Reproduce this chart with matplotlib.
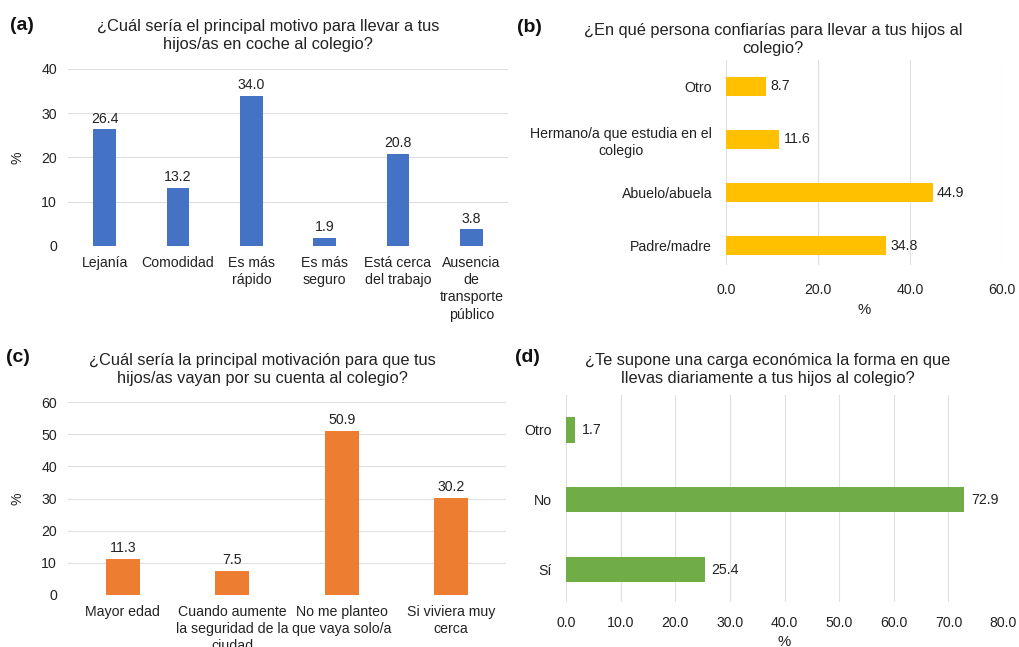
import matplotlib.pyplot as plt

plt.rcParams['font.family'] = ['Liberation Sans', 'DejaVu Sans']

# (a) main reason for driving children to school
a_labels = ["Lejanía", "Comodidad", "Es más\nrápido", "Es más\nseguro",
            "Está cerca\ndel trabajo", "Ausencia\nde\ntransporte\npúblico"]
a_values = [26.4, 13.2, 34.0, 1.9, 20.8, 3.8]

# (b) who parents would trust to take their children
b_labels = ["Padre/madre", "Abuelo/abuela", "Hermano/a que estudia en el\ncolegio", "Otro"]
b_values = [34.8, 44.9, 11.6, 8.7]

# (c) main motivation for children going on their own
c_labels = ["Mayor edad", "Cuando aumente\nla seguridad de la\nciudad",
            "No me planteo\nque vaya solo/a", "Si viviera muy\ncerca"]
c_values = [11.3, 7.5, 50.9, 30.2]

# (d) economic burden of the daily commute
d_labels = ["Sí", "No", "Otro"]
d_values = [25.4, 72.9, 1.7]

W, H = 1019, 647
fig = plt.figure(figsize=(W / 100, H / 100), dpi=100)

GRID = "#e0e0e0"
TXT = "#222222"
FS = 10.2


def px_axes(left, top, right, bottom):
    return fig.add_axes([left / W, 1 - bottom / H, (right - left) / W, (bottom - top) / H])


def clean(ax):
    for s in ax.spines.values():
        s.set_visible(False)
    ax.tick_params(length=0, colors=TXT, labelsize=FS)
    ax.set_axisbelow(True)


def vbar(ax, labels, values, color, ymax, step):
    x = range(len(values))
    bars = ax.bar(x, values, width=0.31, color=color)
    for b, v in zip(bars, values):
        ax.text(b.get_x() + b.get_width() / 2, v + ymax * 0.02, f"{v:.1f}",
                ha="center", va="bottom", fontsize=FS, color=TXT)
    ax.set_xlim(-0.5, len(values) - 0.5)
    ax.set_ylim(0, ymax)
    ax.set_yticks(range(0, ymax + 1, step))
    ax.set_xticks(list(x))
    ax.set_xticklabels(labels, linespacing=1.3)
    ax.yaxis.grid(True, color=GRID, linewidth=0.8)
    ax.set_ylabel("%", fontsize=FS, color=TXT, labelpad=12)
    clean(ax)
    ax.tick_params(axis="x", pad=7)
    ax.tick_params(axis="y", pad=8)


def hbar(ax, labels, values, color, xmax, ylim, xpad):
    y = range(len(values))
    bars = ax.barh(y, values, height=0.36, color=color)
    for b, v in zip(bars, values):
        ax.text(v + xmax * 0.016, b.get_y() + b.get_height() / 2, f"{v:.1f}",
                ha="left", va="center", fontsize=FS, color=TXT)
    ax.set_xlim(0, xmax)
    ax.set_ylim(*ylim)
    ax.set_yticks(list(y))
    ax.set_yticklabels(labels, linespacing=1.3)
    for t in ax.get_yticklabels():
        t.set_multialignment("center")
    ax.xaxis.grid(True, color=GRID, linewidth=0.8)
    ax.xaxis.set_major_formatter(plt.FuncFormatter(lambda v, p: f"{v:.1f}"))
    ax.set_xlabel("%", fontsize=FS + 0.5, color=TXT, labelpad=4)
    clean(ax)
    ax.tick_params(axis="x", pad=xpad)
    ax.tick_params(axis="y", pad=10)


ax_a = px_axes(68, 69, 508, 246)
vbar(ax_a, a_labels, a_values, "#4472c4", 40, 10)

ax_b = px_axes(726, 60, 1002, 265)
hbar(ax_b, b_labels, b_values, "#ffc000", 60, (-0.36, 3.49), 13)
ax_b.set_xticks([0, 20, 40, 60])

ax_c = px_axes(68, 402, 506, 595)
vbar(ax_c, c_labels, c_values, "#ed7d31", 60, 10)

ax_d = px_axes(566, 395, 1003, 602)
hbar(ax_d, d_labels, d_values, "#70ad47", 80, (-0.46, 2.5), 10)
ax_d.set_xticks(range(0, 81, 10))

# panel letters and titles
titles = [
    ("(a)", 22, 25, 268, "¿Cuál sería el principal motivo para llevar a tus\nhijos/as en coche al colegio?"),
    ("(b)", 529, 28, 773, "¿En qué persona confiarías para llevar a tus hijos al\ncolegio?"),
    ("(c)", 18, 358, 262, "¿Cuál sería la principal motivación para que tus\nhijos/as vayan por su cuenta al colegio?"),
    ("(d)", 527, 358, 768, "¿Te supone una carga económica la forma en que\nllevas diariamente a tus hijos al colegio?"),
]
for letter, lx, ly, tx, text in titles:
    fig.text(lx / W, 1 - ly / H, letter, fontsize=14, fontweight="bold",
             ha="center", va="center", color="#111111")
    fig.text(tx / W, 1 - (ly + 11) / H, text, fontsize=11.8, ha="center",
             va="center", color=TXT, linespacing=1.25)

fig.savefig("out.png", dpi=100, facecolor="white")
